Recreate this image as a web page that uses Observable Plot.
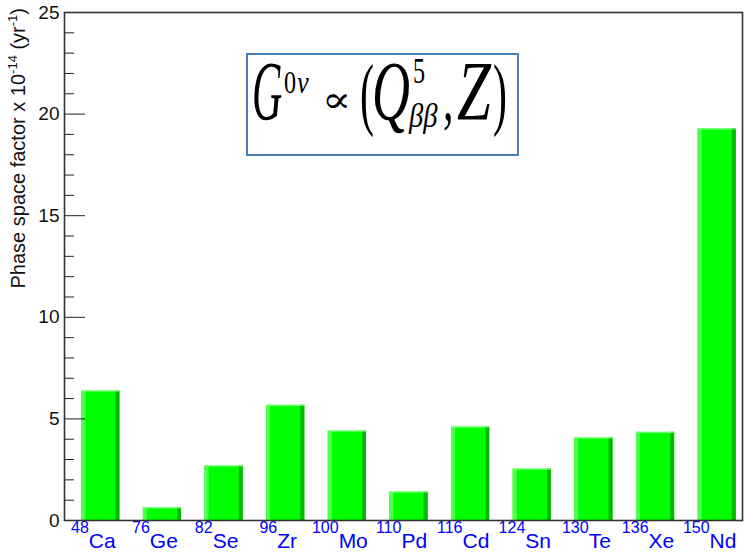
<!DOCTYPE html>
<html>
<head>
<meta charset="utf-8">
<script src="https://cdn.jsdelivr.net/npm/d3@7"></script>
<script src="https://cdn.jsdelivr.net/npm/@observablehq/plot@0.6"></script>
<style>
  html, body { margin: 0; padding: 0; background: #fff; }
  #chart { width: 744px; height: 554px; }
</style>
</head>
<body>
<div id="chart"></div>
<script>
// ---- data ----
const isotopes = ["Ca", "Ge", "Se", "Zr", "Mo", "Pd", "Cd", "Sn", "Te", "Xe", "Nd"];
const massNumbers = ["48", "76", "82", "96", "100", "110", "116", "124", "130", "136", "150"];
const phaseSpace = [6.37, 0.62, 2.68, 5.67, 4.40, 1.40, 4.60, 2.53, 4.06, 4.34, 19.27];
const yMajorTicks = [0, 5, 10, 15, 20, 25];
const yMinorTicks = [1, 2, 3, 4, 6, 7, 8, 9, 11, 12, 13, 14, 16, 17, 18, 19, 21, 22, 23, 24];

const data = isotopes.map((name, i) => ({name, mass: massNumbers[i], value: phaseSpace[i]}));

// ---- layout ----
const W = 744, H = 554;
const mL = 64, mR = 2, mT = 12, mB = 34;
const padIn = 0.38, padOut = 0.19;
const step = (W - mL - mR) / isotopes.length;
const bw = step * (1 - padIn);
const shift = 5.5;
const strip = 4;

const plot = Plot.plot({
  width: W, height: H,
  marginLeft: mL, marginRight: mR, marginTop: mT, marginBottom: mB,
  style: {fontFamily: "'Liberation Sans', Arial, sans-serif", background: "#fff", color: "#222"},
  x: {domain: isotopes, paddingInner: padIn, paddingOuter: padOut, round: false, label: null},
  y: {domain: [0, 25], label: null},
  marks: [
    Plot.rectY(data, {x: "name", y: "value", fill: "#00ff00", dx: shift}),
    Plot.rectY(data, {x: "name", y: "value", fill: "#4dff4d", dx: shift, insetRight: bw - strip}),
    Plot.rectY(data, {x: "name", y: "value", fill: "#00b800", dx: shift, insetLeft: bw - strip}),
    Plot.tickY(data, {x: "name", y: "value", stroke: "#8cff8c", strokeWidth: 1, dx: shift}),
    Plot.axisY({ticks: yMinorTicks, tickSize: -10, tickFormat: () => "", stroke: "#222"}),
    Plot.axisY({ticks: yMajorTicks, tickSize: -21, tickFormat: () => "", stroke: "#222"}),
    Plot.axisY({ticks: yMajorTicks, tickSize: 0, tickPadding: 5, fontSize: 19, color: "#111"}),
    Plot.axisX({tickSize: 0, tickPadding: 13, fontSize: 21, dx: -2, color: "#0000ff"}),
    Plot.frame({stroke: "#333", strokeWidth: 1.6})
  ]
});

document.getElementById("chart").appendChild(plot);

const svg = d3.select(plot);

// superscript mass numbers on the x labels
svg.selectAll('g[aria-label="x-axis tick label"] text').each(function() {
  const t = d3.select(this);
  const sym = t.text();
  const idx = isotopes.indexOf(sym);
  t.text(null);
  t.append("tspan").style("font-size", "16px").attr("dy", -15).text(massNumbers[idx]);
  t.append("tspan").attr("dy", 15).text(sym);
});

// y-axis title with superscripts
const yt = svg.append("text")
  .attr("transform", "translate(25,8) rotate(-90)")
  .attr("text-anchor", "end")
  .style("font-size", "20px")
  .attr("fill", "#111")
  .style("font-family", "'Liberation Sans', Arial, sans-serif");
yt.append("tspan").text("Phase space factor x 10");
yt.append("tspan").style("font-size", "13px").attr("dy", -8).text("-14");
yt.append("tspan").attr("dy", 8).text(" (yr");
yt.append("tspan").style("font-size", "13px").attr("dy", -8).text("-1");
yt.append("tspan").attr("dy", 8).text(")");

// formula box
const fg = svg.append("g").attr("text-anchor", "start");
fg.append("rect").attr("x", 247).attr("y", 54).attr("width", 271).attr("height", 101)
  .attr("fill", "#fff").attr("stroke", "#4a7ebb").attr("stroke-width", 2);
const parts = [
  {t: "G", x: 252, b: 120, fs: 42, sx: 1.0, sy: 2.0, it: true},
  {t: "0", x: 284, b: 93, fs: 22, sx: 1.1, sy: 1.45, it: false},
  {t: "ν", x: 297, b: 93, fs: 22, sx: 1.2, sy: 1.45, it: true},
  {t: "∝", x: 322, b: 112, fs: 36, sx: 1.2, sy: 1.0, it: false},
  {t: "(", x: 360, b: 120, fs: 42, sx: 1.0, sy: 1.9, it: false},
  {t: "Q", x: 372, b: 120, fs: 42, sx: 1.25, sy: 2.0, it: true},
  {t: "5", x: 413, b: 83, fs: 22, sx: 1.1, sy: 1.6, it: false},
  {t: "ββ", x: 409, b: 127, fs: 22, sx: 1.3, sy: 1.5, it: true},
  {t: ",", x: 443, b: 120, fs: 42, sx: 1.0, sy: 1.6, it: false},
  {t: "Z", x: 457, b: 120, fs: 42, sx: 1.45, sy: 2.0, it: true},
  {t: ")", x: 493, b: 120, fs: 42, sx: 1.0, sy: 1.9, it: false}
];
for (const p of parts) {
  fg.append("text")
    .attr("transform", `translate(${p.x},${p.b}) scale(${p.sx},${p.sy})`)
    .attr("text-anchor", "start")
    .style("font-family", "'Liberation Serif', 'Times New Roman', 'DejaVu Serif', serif")
    .style("font-size", p.fs + "px")
    .style("font-style", p.it ? "italic" : "normal")
    .attr("fill", "#000")
    .text(p.t);
}
</script>
</body>
</html>
